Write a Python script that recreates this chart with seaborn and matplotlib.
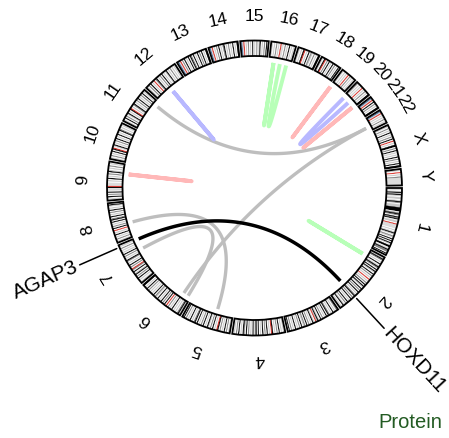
import numpy as np
import pandas as pd
import matplotlib
matplotlib.use("Agg")
import matplotlib.pyplot as plt
from matplotlib.patches import Wedge
import seaborn as sns

# ---- genome layout (hg19, Mb) ----
chrom_names = [str(i) for i in range(1, 23)] + ["X", "Y"]
chrom_lengths = [249.25, 243.20, 198.02, 191.15, 180.92, 171.12, 159.14, 146.36,
                 141.21, 135.53, 135.01, 133.85, 115.17, 107.35, 102.53, 90.35,
                 81.20, 78.08, 59.13, 63.03, 48.13, 51.30, 155.27, 59.37]

# coarse G-band stain per chromosome, one character per equal-length segment
# . gneg  1 gpos25  2 gpos50  3 gpos75  4 gpos100  c acen  v gvar  s stalk
chrom_bands = [
    ".1.24142.11.143.2224444.343.434.22.cvvvv.2.242.32.4.4.41.44.2433.4.",
    ".243.1.4.243.4.42.4.3.2.c.1.3.4.42.4.3.4.2.34.3.4.2.4.3.24.2.",
    ".3.2.4.1.34.4.2.3.4.241c.24.2.3.4.32.4.3.1.4.2.3.4.",
    ".2.1.4.3.2.4c.2.4.3.4.2.4.43.4.2.3.4.34.2.4.3.2.",
    ".1.3.4.2.3.4c.2.4.3.24.2.4.3.1.4.43.2.4.1.3.4.",
    ".143.2.1.4.2.3.c.4.3.4.2.4.23.4.2.1.3.4.2.4",
    ".2.1.4.3.42.4.3c.3.4.2.34.1.3.4.2.1.3.2.",
    ".2.3.1.4.2.c.4.3.2.4.43.4.1.3.4.2.14.",
    ".2.4.3.4.2.4cvvv.2.4.1.3.42.1.3.1.",
    ".1.3.2.4.4c.24.2.3.4.1.4.2.43.1.2.",
    ".2.4.3.24.2.4c.2.34.1.3.4.2.3.4.1.",
    ".2.3.4.1.c.34.2.3.4.1.24.2.3.1.2.",
    "vsvc.3.4.2.4.43.4.2.4.3.4.2.4",
    "vsvc.1.3.4.2.34.1.3.2.4.1.4",
    "vsvc.1.3.2.4.1.3.24.2.3.4.",
    ".2.1.3.2.cvv.3.2.4.1.2.",
    ".2.1.4c.2.4.31.3.2.4",
    ".2.4c.3.4.2.4.3.2.4.",
    ".2.1.2.c.3.2.1.",
    ".3.2.1.c.2.3.1.4",
    "vsvc.4.3.2.4",
    "vsvc.2.1.3.2.",
    ".2.3.1.4.2.3.4.c.2.44.3.4.2.1.4.3.2.4.4",
    ".1.c.2.3vvvvvvv",
]
band_colors = {".": "#FFFFFF", "1": "#C8C8C8", "2": "#C8C8C8", "3": "#828282",
               "4": "#000000", "c": "#D92F27", "v": "#DCDCDC", "s": "#4770A2"}

# ---- fusion links between two loci ----
link_chr_a = ["11", "22", "8", "7", "12", "16", "16", "2", "9", "19", "20", "20", "7"]
link_pos_a = [118.6, 34.5, 58.0, 108.5, 65.9, 19.0, 46.0, 29.4, 102.0, 1.5, 5.8, 59.0, 150.8]
link_chr_b = ["22", "6", "5", "6", "12", "16", "16", "2", "9", "19", "20", "20", "2"]
link_pos_b = [34.5, 33.0, 66.4, 12.0, 66.4, 19.5, 73.0, 29.9, 102.5, 2.0, 33.4, 59.5, 177.0]
link_color = ["#BEBEBE", "#BEBEBE", "#BEBEBE", "#BEBEBE",
              "#B8B8FF", "#B8FFB8", "#B8FFB8", "#B8FFB8",
              "#FFB8B8", "#FFB8B8", "#B8B8FF", "#FFB8B8", "#000000"]
link_width = [2.4, 2.4, 2.4, 2.4, 2.8, 2.8, 2.8, 2.8, 2.8, 2.8, 2.8, 2.8, 2.5]

# ---- labelled genes ----
gene_names = ["AGAP3", "HOXD11"]
gene_chr = ["7", "2"]
gene_pos = [150.78, 176.97]

legend_title = "Protein"

# ---- geometry ----
W, H = 449, 438
CX, CY = 254.5, 250.0
R_OUT, R_IN = 147.5, 132.0
R_LINK = 126.5
R_NAME = 171.5
GAP = 1.0
START = 0.0

total = sum(chrom_lengths)
deg_per_mb = (360.0 - GAP * len(chrom_names)) / total
offsets = np.concatenate([[0], np.cumsum(chrom_lengths)[:-1]])
chrom_index = {n: i for i, n in enumerate(chrom_names)}


def angle_of(chrom, pos):
    i = chrom_index[chrom]
    return START - (offsets[i] * deg_per_mb + i * GAP + pos * deg_per_mb)


def polar(r, deg):
    a = np.deg2rad(deg)
    return CX + r * np.cos(a), CY + r * np.sin(a)


sns.set_theme(style="white")
plt.rcParams["font.family"] = ["Liberation Sans", "DejaVu Sans"]
plt.rcParams["text.color"] = "black"

fig = plt.figure(figsize=(W / 100, H / 100), dpi=100)
ax = fig.add_axes([0, 0, 1, 1])
ax.set_xlim(0, W)
ax.set_ylim(0, H)
ax.axis("off")

# ---- ideogram ring ----
for name, length, bands in zip(chrom_names, chrom_lengths, chrom_bands):
    a0 = angle_of(name, 0)
    a1 = angle_of(name, length)
    seg = length / len(bands)
    # merge runs of identical stain
    runs = []
    for k, ch in enumerate(bands):
        if runs and runs[-1][0] == ch:
            runs[-1][2] = (k + 1) * seg
        else:
            runs.append([ch, k * seg, (k + 1) * seg])
    for ch, s, e in runs:
        col = band_colors[ch]
        ax.add_patch(Wedge((CX, CY), R_OUT, angle_of(name, e), angle_of(name, s),
                           width=R_OUT - R_IN, facecolor=col, edgecolor=col,
                           lw=0.25, zorder=2))
    ax.add_patch(Wedge((CX, CY), R_OUT, a1, a0, width=R_OUT - R_IN,
                       fill=False, edgecolor="black", lw=1.3, zorder=3))
    mid = (a0 + a1) / 2
    tx, ty = polar(R_NAME, mid)
    ax.text(tx, ty, name, rotation=mid - 90, rotation_mode="anchor",
            ha="center", va="center", fontsize=12.6, color="black", zorder=4)

# ---- links: quadratic Bezier through the circle centre ----
t = np.linspace(0, 1, 120)
rows = []
for k in range(len(link_chr_a)):
    x0, y0 = polar(R_LINK, angle_of(link_chr_a[k], link_pos_a[k]))
    x2, y2 = polar(R_LINK, angle_of(link_chr_b[k], link_pos_b[k]))
    bx = (1 - t) ** 2 * x0 + 2 * t * (1 - t) * CX + t ** 2 * x2
    by = (1 - t) ** 2 * y0 + 2 * t * (1 - t) * CY + t ** 2 * y2
    rows.append(pd.DataFrame({"x": bx, "y": by, "link": k}))
links = pd.concat(rows, ignore_index=True)

order = [k for k in range(len(link_color)) if link_color[k] == "#BEBEBE"] + \
        [k for k in range(len(link_color)) if link_color[k] not in ("#BEBEBE", "#000000")] + \
        [k for k in range(len(link_color)) if link_color[k] == "#000000"]
for z, k in enumerate(order):
    sns.lineplot(data=links[links["link"] == k], x="x", y="y", sort=False,
                 estimator=None, color=link_color[k], lw=link_width[k],
                 solid_capstyle="butt", ax=ax, legend=False, zorder=5 + z * 0.01)

# ---- gene labels ----
for g, c, p in zip(gene_names, gene_chr, gene_pos):
    a = angle_of(c, p)
    lx0, ly0 = polar(150.5, a)
    lx1, ly1 = polar(191.0, a)
    ax.plot([lx0, lx1], [ly0, ly1], color="black", lw=1.1, zorder=4)
    tx, ty = polar(193.5, a)
    a_norm = (a + 360) % 360
    if 90 < a_norm < 270:
        ax.text(tx, ty, g, rotation=a_norm - 180, rotation_mode="anchor",
                ha="right", va="center", fontsize=15, color="black", zorder=4)
    else:
        ax.text(tx, ty, g, rotation=a, rotation_mode="anchor",
                ha="left", va="center", fontsize=15, color="black", zorder=4)

ax.text(378.3, H - 428.3, legend_title, ha="left", va="baseline",
        fontsize=14.5, color="#235B23")

fig.savefig("out.png", dpi=100)
